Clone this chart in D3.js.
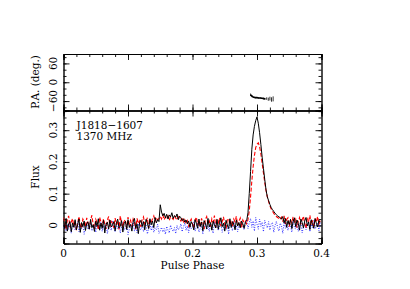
<!DOCTYPE html>
<html>
<head>
<meta charset="utf-8">
<script src="https://cdn.jsdelivr.net/npm/d3@7"></script>
<style>
  body { margin: 0; background: #fff; }
  text { font-family: "DejaVu Serif", serif; font-size: 10.5px; fill: #000; }
  .axis path, .axis line { stroke: #000; stroke-width: 0.9; }
</style>
</head>
<body>
<script>
// pulse profile of J1818-1607 at 1370 MHz, bins of 0.002 in phase, flux in units of 0.001
var binWidth = 0.002;
var totalI = [
  15, -10, 22, -18, 5, 12, -20, 8, -6, 18, -14, 3, 20, -22, 9, -4, 14, -16, 6, 11,
  -12, 19, -7, 2, -19, 13, -3, 21, -15, 7, -9, 16, -24, 4, 10, -11, 17, -5, 1, 12,
  -17, 8, 20, -8, -2, 15, -21, 6, 13, -13, 18, -6, 3, -18, 11, 22, -9, 5, -26, 9,
  16, -4, 12, -14, 19, 7, -10, 21, 2, 14, -7, 25, 8, 18, 12, 65, 42, 30, 38, 24,
  35, 20, 33, 27, 40, 22, 31, 26, 36, 18, 29, 24, 15, 21, 10, 17, 5, 14, -6, 12,
  3, -14, 18, 7, -9, 20, -3, 11, -17, 15, 6, -11, 22, -5, 9, -15, 13, 2, -8, 19,
  -12, 10, 24, -4, 7, -18, 16, 1, -10, 21, -6, 12, 4, -14, 17, -2, 9, -7, 14, 5,
  -9, 11, 15, 40, 100, 170, 240, 285, 312, 330, 342, 322, 292, 255, 215, 180, 145, 112, 90, 78,
  66, 56, 50, 44, 38, 34, 30, 27, 24, 20, 28, 8, 22, -6, 15, 3, 19, -10, 12, 24,
  -4, 17, 6, -15, 20, 9, -8, 14, 25, -2, 11, -13, 18, 4, -9, 21, 7, -5, 16, 10
];
var linearL = [
  25, 4, -12, 18, 30, -6, 10, 22, -3, 14, -15, 8, 28, 1, -9, 20, 12, -5, 24, 6,
  -10, 16, 32, 3, -7, 19, 9, -14, 26, 11, -2, 21, 5, -11, 17, 28, -4, 13, 7, -8,
  23, 2, 15, -13, 30, 8, -6, 18, 12, -9, 26, 4, 16, -3, 20, 10, -12, 22, 6, 14,
  -5, 19, 27, 3, 12, 24, -8, 15, 9, 21, 30, 13, 25, 17, 22, 28, 20, 33, 18, 26,
  22, 30, 16, 28, 24, 19, 31, 23, 17, 27, 20, 14, 25, 11, 18, 6, 15, -2, 12, 20,
  4, -8, 17, 26, 1, 13, -6, 22, 9, -12, 19, 28, 3, 14, -4, 21, 10, 31, -7, 16,
  8, 24, -3, 12, 27, 5, -10, 18, 22, 2, 15, -5, 20, 11, 29, 0, 13, 23, -6, 17,
  9, 14, 5, 18, 45, 90, 140, 185, 220, 245, 256, 260, 248, 225, 195, 165, 135, 110, 90, 75,
  62, 52, 45, 38, 33, 28, 25, 22, 18, 26, 12, 30, 5, 19, 24, -4, 16, 8, 27, 11,
  20, -7, 14, 25, 3, 18, 29, 6, -9, 21, 13, 32, 2, 16, -5, 23, 10, 28, 4, 15
];
var circularV = [
  -8, 5, -18, 2, -12, 10, -25, -3, 7, -15, -6, 12, -20, 0, -10, 4, -28, -7, 9, -13,
  -2, 8, -17, -9, 3, -22, 6, -11, -4, 11, -19, -1, -14, 7, -26, -5, 2, -16, 13, -8,
  -21, 1, -10, 6, -24, -3, 9, -15, -7, 4, -29, -12, 3, -6, 10, -18, -2, -23, 5, -9,
  -14, 8, -20, -4, 2, -27, -11, 6, -16, -1, -22, -8, -13, 4, -25, -17, -6, -21, -10, -28,
  -3, -15, -24, 1, -12, -19, -7, -26, 0, -14, -9, 5, -20, -4, 8, -16, -1, -23, 6, -11,
  -5, 11, -18, -2, 7, -21, -9, 3, -27, -6, 9, -14, 0, -19, 4, -10, -25, 12, -7, 2,
  -16, -3, 10, -22, -8, 5, -13, 1, -28, 8, -5, -17, 13, -11, -1, -20, 6, -9, 15, -4,
  -14, 3, 18, -10, 8, 22, -6, 14, -18, 25, 4, -12, 20, -3, 10, -20, 16, 2, -8, 12,
  -15, 5, 9, -22, 0, 13, -7, -18, 7, -2, -25, 11, -9, 4, -16, 8, -1, -21, 14, -6,
  -12, 6, -19, 2, 10, -24, -4, 8, -14, -1, 12, -20, 3, -8, 15, -11, -3, 7, -17, 9
];
// position angle
var paPhase = [0.290, 0.2925, 0.295, 0.2975, 0.300, 0.3025, 0.305, 0.3075, 0.310, 0.3125, 0.315, 0.3175, 0.320, 0.3225, 0.325];
var paDeg   = [-40, -45, -48, -49, -49, -50, -50, -51, -52, -53, -52, -54, -52, -55, -53];
var paErr   = [4, 3, 2, 2, 2, 2, 2, 2, 3, 3, 4, 5, 6, 7, 8];

var xTicks = [0, 0.1, 0.2, 0.3, 0.4];
var paTicks = [-60, 0, 60];
var fluxTicks = [0, 0.1, 0.2, 0.3];
var labels = ["J1818\u22121607", "1370 MHz"];

var W = 410, H = 289;
var svg = d3.select("body").append("svg").attr("width", W).attr("height", H);

var x = d3.scaleLinear().domain([0, 0.4]).range([63.5, 321.5]);
var yPA = d3.scaleLinear().domain([-90, 90]).range([110.5, 54]);
var yF = d3.scaleLinear().domain([-0.057, 0.362]).range([243.5, 110.5]);

function fmt(d) { return d === 0 ? "0" : String(d).replace("-", "\u2212"); }

// inward ticks on all four sides
function frame(y, majorY, minorStep) {
  var top = y.range()[1], bot = y.range()[0];
  var minorX = d3.range(0, 0.4001, 0.02), minorY = d3.range(Math.ceil(y.domain()[0] / minorStep) * minorStep, y.domain()[1] + 1e-9, minorStep);
  var g = svg.append("g").attr("class", "axis");
  g.append("g").attr("transform", "translate(0," + bot + ")")
    .call(d3.axisBottom(x).tickValues(minorX).tickSize(-3).tickFormat(""));
  g.append("g").attr("transform", "translate(0," + bot + ")")
    .call(d3.axisBottom(x).tickValues(xTicks).tickSize(-6).tickFormat(""));
  g.append("g").attr("transform", "translate(0," + top + ")")
    .call(d3.axisTop(x).tickValues(minorX).tickSize(-3).tickFormat(""));
  g.append("g").attr("transform", "translate(0," + top + ")")
    .call(d3.axisTop(x).tickValues(xTicks).tickSize(-6).tickFormat(""));
  g.append("g").attr("transform", "translate(" + x.range()[0] + ",0)")
    .call(d3.axisLeft(y).tickValues(minorY).tickSize(-3).tickFormat(""));
  g.append("g").attr("transform", "translate(" + x.range()[0] + ",0)")
    .call(d3.axisLeft(y).tickValues(majorY).tickSize(-6).tickFormat(""));
  g.append("g").attr("transform", "translate(" + x.range()[1] + ",0)")
    .call(d3.axisRight(y).tickValues(minorY).tickSize(-3).tickFormat(""));
  g.append("g").attr("transform", "translate(" + x.range()[1] + ",0)")
    .call(d3.axisRight(y).tickValues(majorY).tickSize(-6).tickFormat(""));
  // rotated y tick labels
  g.selectAll(".ylab").data(majorY).enter().append("text")
    .attr("transform", function(d) { return "translate(57," + y(d) + ") rotate(-90)"; })
    .attr("text-anchor", "middle")
    .text(fmt);
}
frame(yPA, paTicks, 20);
frame(yF, fluxTicks, 0.02);

svg.selectAll(".xlab").data(xTicks).enter().append("text")
  .attr("x", function(d) { return x(d); }).attr("y", 257)
  .attr("text-anchor", "middle").text(fmt);

svg.append("text").attr("x", 192.5).attr("y", 268.5).attr("text-anchor", "middle").text("Pulse Phase");
svg.append("text").attr("transform", "translate(39,82) rotate(-90)").attr("text-anchor", "middle").text("P.A. (deg.)");
svg.append("text").attr("transform", "translate(39,177) rotate(-90)").attr("text-anchor", "middle").text("Flux");

svg.selectAll(".lab").data(labels).enter().append("text")
  .attr("x", 76.5).attr("y", function(d, i) { return 128.5 + i * 11; }).text(function(d) { return d; });

// profiles
var line = d3.line().x(function(d, i) { return x(i * binWidth); }).y(function(d) { return yF(d / 1000); });
var clip = svg.append("clipPath").attr("id", "c").append("rect")
  .attr("x", x.range()[0]).attr("y", yF.range()[1]).attr("width", x.range()[1] - x.range()[0]).attr("height", yF.range()[0] - yF.range()[1]);
var prof = svg.append("g").attr("clip-path", "url(#c)");
prof.append("path").datum(circularV).attr("d", line).attr("fill", "none")
  .attr("stroke", "#2222ff").attr("stroke-width", 0.9).attr("stroke-dasharray", "1,1.5");
prof.append("path").datum(linearL).attr("d", line).attr("fill", "none")
  .attr("stroke", "#ff0000").attr("stroke-width", 1.1).attr("stroke-dasharray", "4,2");
prof.append("path").datum(totalI).attr("d", line).attr("fill", "none")
  .attr("stroke", "#000").attr("stroke-width", 1);

// position angle with error bars
var pa = svg.append("g");
pa.selectAll(".err").data(paPhase).enter().append("line")
  .attr("x1", function(d) { return x(d); }).attr("x2", function(d) { return x(d); })
  .attr("y1", function(d, i) { return yPA(paDeg[i] - paErr[i]); })
  .attr("y2", function(d, i) { return yPA(paDeg[i] + paErr[i]); })
  .attr("stroke", "#000").attr("stroke-width", 0.8);
pa.append("path").datum(paPhase.slice(0, 10)).attr("fill", "none").attr("stroke", "#000").attr("stroke-width", 1.6)
  .attr("d", d3.line().x(function(d) { return x(d); }).y(function(d, i) { return yPA(paDeg[i]); }));
</script>
</body>
</html>
